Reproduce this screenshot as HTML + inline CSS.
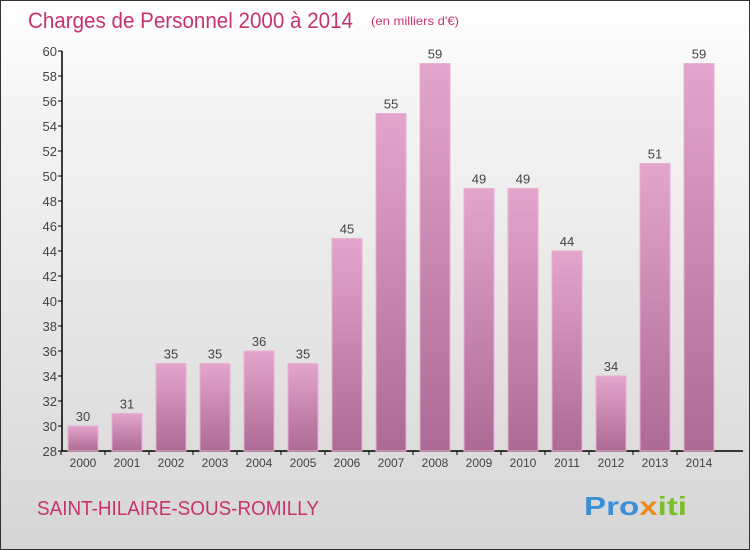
<!DOCTYPE html>
<html><head><meta charset="utf-8"><style>
body{margin:0;}
#c{width:748px;height:548px;border:1px solid #333;position:relative;background:linear-gradient(#ffffff,#f4f4f4 20%,#d6d6d6);font-family:"Liberation Sans",sans-serif;overflow:hidden}
</style></head><body>
<div id="c">
<svg width="748" height="548" style="position:absolute;left:0;top:0">
<defs><linearGradient id="g" x1="0" y1="0" x2="0" y2="1"><stop offset="0" stop-color="#e4a5cc"/><stop offset="1" stop-color="#ad6a94"/></linearGradient></defs>
<text x="27" y="27" font-size="22" fill="#c8336e" textLength="325" lengthAdjust="spacingAndGlyphs">Charges de Personnel 2000 à 2014</text>
<text x="370" y="24" font-size="12" fill="#c8336e" textLength="88" lengthAdjust="spacingAndGlyphs">(en milliers d'€)</text>
<g id="plot"></g>
<text x="36" y="514" font-size="20" fill="#c8336e" textLength="282" lengthAdjust="spacingAndGlyphs">SAINT-HILAIRE-SOUS-ROMILLY</text>
<text x="583" y="514" font-size="26" font-weight="bold" textLength="103" lengthAdjust="spacingAndGlyphs"><tspan fill="#3a8fd6">Pro</tspan><tspan fill="#f08a1c">x</tspan><tspan fill="#7cbf2a">iti</tspan></text>
</svg>
</div>
<script>
const years=["2000","2001","2002","2003","2004","2005","2006","2007","2008","2009","2010","2011","2012","2013","2014"];
const values=[30,31,35,35,36,35,45,55,59,49,49,44,34,51,59];
const yTicks=[28,30,32,34,36,38,40,42,44,46,48,50,52,54,56,58,60];
const NS="http://www.w3.org/2000/svg";
const plotG=document.getElementById('plot');
const yMin=28,yMax=60,pTop=50,pBot=450,pLeft=61;
const sy=v=>pBot-(v-yMin)/(yMax-yMin)*(pBot-pTop);
const sx=i=>82+i*44;
function mk(t,a){const e=document.createElementNS(NS,t);for(const k in a)e.setAttribute(k,a[k]);plotG.appendChild(e);return e;}
let ax=mk('line',{x1:pLeft,y1:pTop,x2:pLeft,y2:pBot,stroke:'#000','stroke-width':1.5});


let bx=mk('line',{x1:pLeft,y1:pBot,x2:742,y2:pBot,stroke:'#000','stroke-width':1.5});


yTicks.forEach(v=>{
 mk('line',{x1:pLeft-4,y1:sy(v),x2:pLeft,y2:sy(v),stroke:'#000'});
 const t=mk('text',{x:pLeft-5,y:sy(v)+5,'font-size':13,fill:'#444','text-anchor':'end'});t.textContent=v;
 
 
});
values.forEach((v,i)=>{
 const r=mk('rect',{x:sx(i)-15,y:sy(v),width:30,height:pBot-sy(v),fill:'url(#g)',stroke:'#e8b0d2','stroke-width':1});
 
 
 const t=mk('text',{x:sx(i),y:sy(v)-5,'font-size':13,fill:'#444','text-anchor':'middle'});t.textContent=v;
 
 
 mk('line',{x1:sx(i)-22,y1:pBot,x2:sx(i)-22,y2:pBot+4,stroke:'#000'});
 const l=mk('text',{x:sx(i),y:pBot+16,'font-size':12,fill:'#444','text-anchor':'middle'});l.textContent=years[i];
 
 
});
</script>
</body></html>
